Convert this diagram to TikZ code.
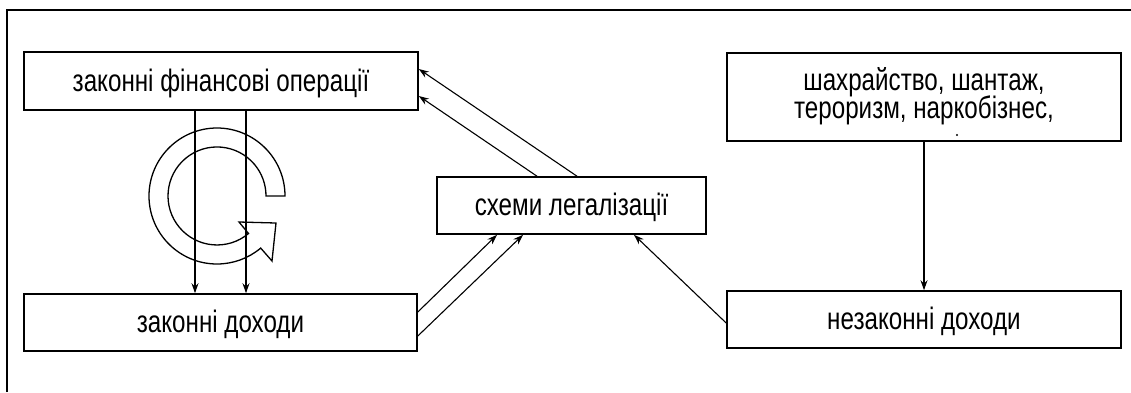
\documentclass[tikz,border=0pt]{standalone}
\usepackage{fontspec}
\setmainfont{Liberation Sans}[FakeStretch=0.78]
\usetikzlibrary{arrows.meta,calc}
\begin{document}
\begin{tikzpicture}[x=1pt,y=1pt,
  box/.style={draw,line width=1.6pt,rectangle,inner sep=0pt,font=\fontsize{31}{29}\selectfont,text height=22pt,text depth=2pt},
  txt/.style={inner sep=0pt,font=\fontsize{31}{29}\selectfont,anchor=base},
  arr/.style={line width=1.1pt,-{Stealth[length=10pt,width=7pt]}},
  ln/.style={line width=1.1pt}]
\useasboundingbox (0,0) rectangle (1131,-392);
% frame
\draw[line width=2pt] (7,-392) -- (7,-10) -- (1131,-10);
% boxes
\node[box,minimum width=394pt,minimum height=58pt] (b1) at (221,-81) {законні фінансові операції};
\node[box,minimum width=393pt,minimum height=57pt] (b2) at (220.5,-322.5) {законні доходи};
\node[box,minimum width=269pt,minimum height=57pt] (b3) at (571.5,-205.5) {схеми легалізації};
\node[box,minimum width=394pt,minimum height=88pt] (b4) at (924,-97) {};
\node[txt] (t4a) at (924,-90) {шахрайство, шантаж,};
\node[txt] (t4b) at (924,-118.5) {тероризм, наркобізнес,};
\fill (957,-135) circle (1.2pt);
\node[box,minimum width=394pt,minimum height=57pt] (b5) at (924,-319.5) {незаконні доходи};
% helper coordinates
\coordinate (v1) at (195,0);
\coordinate (v2) at (246,0);
\coordinate (s1) at (537,0);
\coordinate (s2) at (577,0);
\coordinate (e1) at (0,-96);
\coordinate (e2) at (0,-69);
\coordinate (l1) at (0,-312);
\coordinate (l2) at (0,-336);
\coordinate (u1) at (497,0);
\coordinate (u2) at (523,0);
\coordinate (r1) at (0,-323);
\coordinate (u3) at (634,0);
% connectors
\draw[arr] (b1.south -| v1) -- (b2.north -| v1);
\draw[arr] (b1.south -| v2) -- (b2.north -| v2);
\draw[arr] (b3.north -| s1) -- (b1.east |- e1);
\draw[arr] (b3.north -| s2) -- (b1.east |- e2);
\draw[arr] (b2.east |- l1) -- (b3.south -| u1);
\draw[arr] (b2.east |- l2) -- (b3.south -| u2);
\draw[arr] (b5.west |- r1) -- (b3.south -| u3);
\draw[arr] (b4.south) -- (b5.north);
% circular arrow
\draw[line width=1.3pt,line join=miter]
  (285,-196) arc[start angle=0,end angle=310,radius=68pt]
  -- (272,-261) -- (276,-223) -- (239,-222) -- (248.5,-233.5)
  arc[start angle=310,end angle=0,radius=49pt] -- cycle;
\end{tikzpicture}
\end{document}
